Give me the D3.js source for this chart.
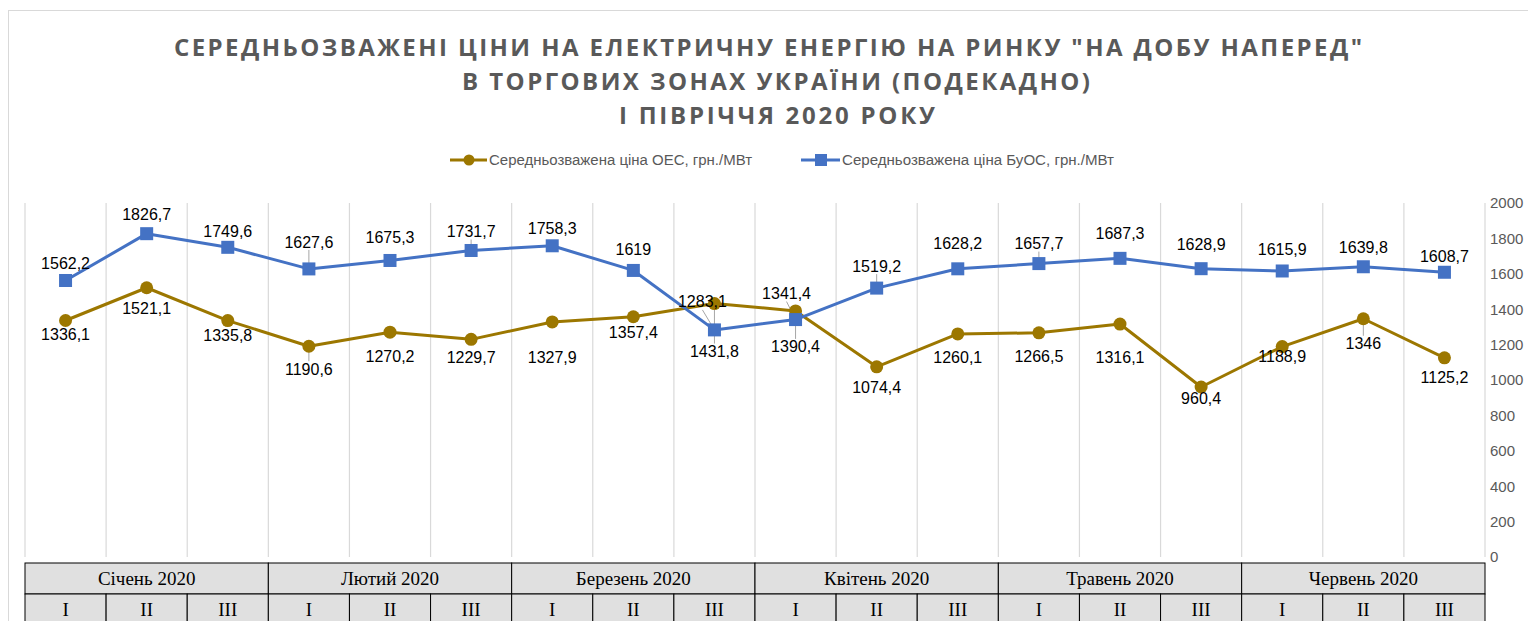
<html>
<head>
<meta charset="utf-8">
<title>Середньозважені ціни РДН</title>
<style>
  body { margin: 0; background: #fff; }
  svg { display: block; }
</style>
<script src="https://d3js.org/d3.v7.min.js"></script>
</head>
<body>
<script>
// ---- data ----
var months = ["Січень 2020", "Лютий 2020", "Березень 2020", "Квітень 2020", "Травень 2020", "Червень 2020"];
var decades = ["I", "II", "III"];
var oes  = [1336.1, 1521.1, 1335.8, 1190.6, 1270.2, 1229.7, 1327.9, 1357.4, 1431.8, 1390.4, 1074.4, 1260.1, 1266.5, 1316.1, 960.4, 1188.9, 1346, 1125.2];
var buos = [1562.2, 1826.7, 1749.6, 1627.6, 1675.3, 1731.7, 1758.3, 1619, 1283.1, 1341.4, 1519.2, 1628.2, 1657.7, 1687.3, 1628.9, 1615.9, 1639.8, 1608.7];
var yTicks = [0, 200, 400, 600, 800, 1000, 1200, 1400, 1600, 1800, 2000];
var seriesNames = ["Середньозважена ціна ОЕС, грн./МВт", "Середньозважена ціна БуОС, грн./МВт"];
var titleLines = ["СЕРЕДНЬОЗВАЖЕНІ ЦІНИ НА ЕЛЕКТРИЧНУ ЕНЕРГІЮ НА РИНКУ \"НА ДОБУ НАПЕРЕД\"",
                  "В ТОРГОВИХ ЗОНАХ УКРАЇНИ (ПОДЕКАДНО)",
                  "І ПІВРІЧЧЯ 2020 РОКУ"];

// label placement tweaks (pixel offsets of label centre from point), like the hand-moved labels
var oesLabelDy  = [14, 21, 15, 23, 24, 18, 35, 16, 48, 36, 21, 23, 24, 33, 11, 10, 25, 20];
var buosLabelDy = [-17, -19, -16, -27, -23, -19, -17, -21, -28, -26, -22, -25, -20, -25, -24, -22, -19, -16];
var oesLabelDx  = [0, 0, 0, 0, 0, 0, 0, 0, 0, 0, 0, 0, 0, 0, 0, 0, 0, 0];
var buosLabelDx = [0, 0, 0, 0, 0, 0, 0, 0, -12, -9, 0, 0, 0, 0, 0, 0, 0, 0];
var oesLeader  = [3, 8, 9, 16];
var buosLeader = [3, 5, 8, 9, 10, 12];

var W = 1528, H = 621;
var brown = "#9c7700", blue = "#4472c4", grey = "#595959";

var cats = d3.range(oes.length);
var x = d3.scaleBand().domain(cats).range([25, 1485]).paddingInner(0).paddingOuter(0);
var y = d3.scaleLinear().domain([0, 2000]).range([557, 203]);
var cx = function(i){ return x(i) + x.bandwidth() / 2; };

var svg = d3.select("body").append("svg").attr("width", W).attr("height", H);

// chart frame
svg.append("rect").attr("x", 8.5).attr("y", 10.5).attr("width", W + 20).attr("height", H + 20)
   .attr("fill", "#fff").attr("stroke", "#d9d9d9");

// title
svg.append("g").selectAll("text").data(titleLines).enter().append("text")
   .attr("x", function(d, i){ return [768, 776, 777][i]; })
   .attr("y", function(d, i){ return 56 + i * 34; })
   .attr("text-anchor", "middle")
   .attr("textLength", function(d, i){ return [1188, 628, 316][i]; })
   .attr("lengthAdjust", "spacing")
   .style("font", "bold 24px 'Open Sans', sans-serif")
   .style("fill", grey)
   .text(function(d){ return d; });

// legend
var legend = svg.append("g").selectAll("g").data(seriesNames).enter().append("g")
   .attr("transform", function(d, i){ return "translate(" + [450, 801][i] + ",160)"; });
legend.append("line").attr("x1", 0).attr("x2", function(d, i){ return i ? 39 : 37; })
   .attr("stroke", function(d, i){ return i ? blue : brown; }).attr("stroke-width", 3);
legend.each(function(d, i){
  var g = d3.select(this);
  if (i === 0) g.append("circle").attr("cx", 19).attr("r", 5.5).attr("fill", brown);
  else g.append("rect").attr("x", 14).attr("y", -6).attr("width", 12).attr("height", 12).attr("fill", blue);
});
legend.append("text").attr("x", function(d, i){ return i ? 41 : 39; }).attr("dy", "0.35em")
   .attr("textLength", function(d, i){ return i ? 272 : 263; }).attr("lengthAdjust", "spacingAndGlyphs")
   .style("font", "14px 'Liberation Sans', sans-serif").style("fill", grey)
   .text(function(d){ return d; });

// vertical category separators
svg.append("g").selectAll("line").data(d3.range(oes.length + 1)).enter().append("line")
   .attr("x1", function(i){ return i < oes.length ? x(i) : x(oes.length - 1) + x.bandwidth(); })
   .attr("x2", function(i){ return i < oes.length ? x(i) : x(oes.length - 1) + x.bandwidth(); })
   .attr("y1", 203).attr("y2", 557)
   .attr("stroke", "#d9d9d9").attr("stroke-width", 1.2);

// right axis
var axis = svg.append("g").attr("transform", "translate(1485,0)")
   .call(d3.axisRight(y).tickValues(yTicks).tickFormat(d3.format("d")).tickSize(0).tickPadding(5));
axis.select(".domain").remove();
axis.selectAll("text").style("font", "15px 'Liberation Sans', sans-serif").style("fill", grey);

// lines
var line = d3.line().x(function(d, i){ return cx(i); }).y(function(d){ return y(d); });
svg.append("path").datum(oes).attr("d", line).attr("fill", "none")
   .attr("stroke", brown).attr("stroke-width", 3).attr("stroke-linejoin", "round");
svg.append("path").datum(buos).attr("d", line).attr("fill", "none")
   .attr("stroke", blue).attr("stroke-width", 3).attr("stroke-linejoin", "round");

// leader lines
function leaders(vals, idx, dx, dy) {
  svg.append("g").selectAll("line").data(idx).enter().append("line")
     .attr("x1", function(i){ return cx(i); })
     .attr("y1", function(i){ return y(vals[i]); })
     .attr("x2", function(i){ return cx(i) + dx[i]; })
     .attr("y2", function(i){ return y(vals[i]) + dy[i] + (dy[i] < 0 ? 8 : -8); })
     .attr("stroke", "#a6a6a6").attr("stroke-width", 1);
}
leaders(oes, oesLeader, oesLabelDx, oesLabelDy);
leaders(buos, buosLeader, buosLabelDx, buosLabelDy);

// markers
svg.append("g").selectAll("circle").data(oes).enter().append("circle")
   .attr("cx", function(d, i){ return cx(i); }).attr("cy", function(d){ return y(d); })
   .attr("r", 6.5).attr("fill", brown);
svg.append("g").selectAll("rect").data(buos).enter().append("rect")
   .attr("x", function(d, i){ return cx(i) - 6.5; }).attr("y", function(d){ return y(d) - 6.5; })
   .attr("width", 13).attr("height", 13).attr("fill", blue);

// data labels
var fmt = function(v){ return String(v).replace(".", ","); };
function labels(vals, dx, dy) {
  svg.append("g").selectAll("text").data(vals).enter().append("text")
     .attr("x", function(d, i){ return cx(i) + dx[i]; })
     .attr("y", function(d, i){ return y(d) + dy[i]; })
     .attr("dy", "0.35em").attr("text-anchor", "middle")
     .style("font", "16px 'Liberation Sans', sans-serif").style("fill", "#000")
     .text(fmt);
}
labels(oes, oesLabelDx, oesLabelDy);
labels(buos, buosLabelDx, buosLabelDy);

// table under the chart
var tbl = svg.append("g").style("font-family", "'Liberation Serif', serif");
var rowTop = 563, rowMid = 594, rowBot = 626;
tbl.selectAll(".m").data(months).enter().append("rect").attr("class", "m")
   .attr("x", function(d, i){ return x(i * 3); }).attr("y", rowTop)
   .attr("width", x.bandwidth() * 3).attr("height", rowMid - rowTop)
   .attr("fill", "#e0e0e0").attr("stroke", "#000").attr("stroke-width", 1);
tbl.selectAll(".mt").data(months).enter().append("text").attr("class", "mt")
   .attr("x", function(d, i){ return x(i * 3) + x.bandwidth() * 1.5; }).attr("y", 585)
   .attr("text-anchor", "middle").style("font-size", "19px").style("fill", "#000")
   .text(function(d){ return d; });
tbl.selectAll(".d").data(cats).enter().append("rect").attr("class", "d")
   .attr("x", function(i){ return x(i); }).attr("y", rowMid)
   .attr("width", x.bandwidth()).attr("height", rowBot - rowMid)
   .attr("fill", "#e0e0e0").attr("stroke", "#000").attr("stroke-width", 1);
tbl.selectAll(".dt").data(cats).enter().append("text").attr("class", "dt")
   .attr("x", function(i){ return cx(i); }).attr("y", 616)
   .attr("text-anchor", "middle").style("font-size", "19px").style("fill", "#000")
   .text(function(i){ return decades[i % 3]; });
</script>
</body>
</html>
